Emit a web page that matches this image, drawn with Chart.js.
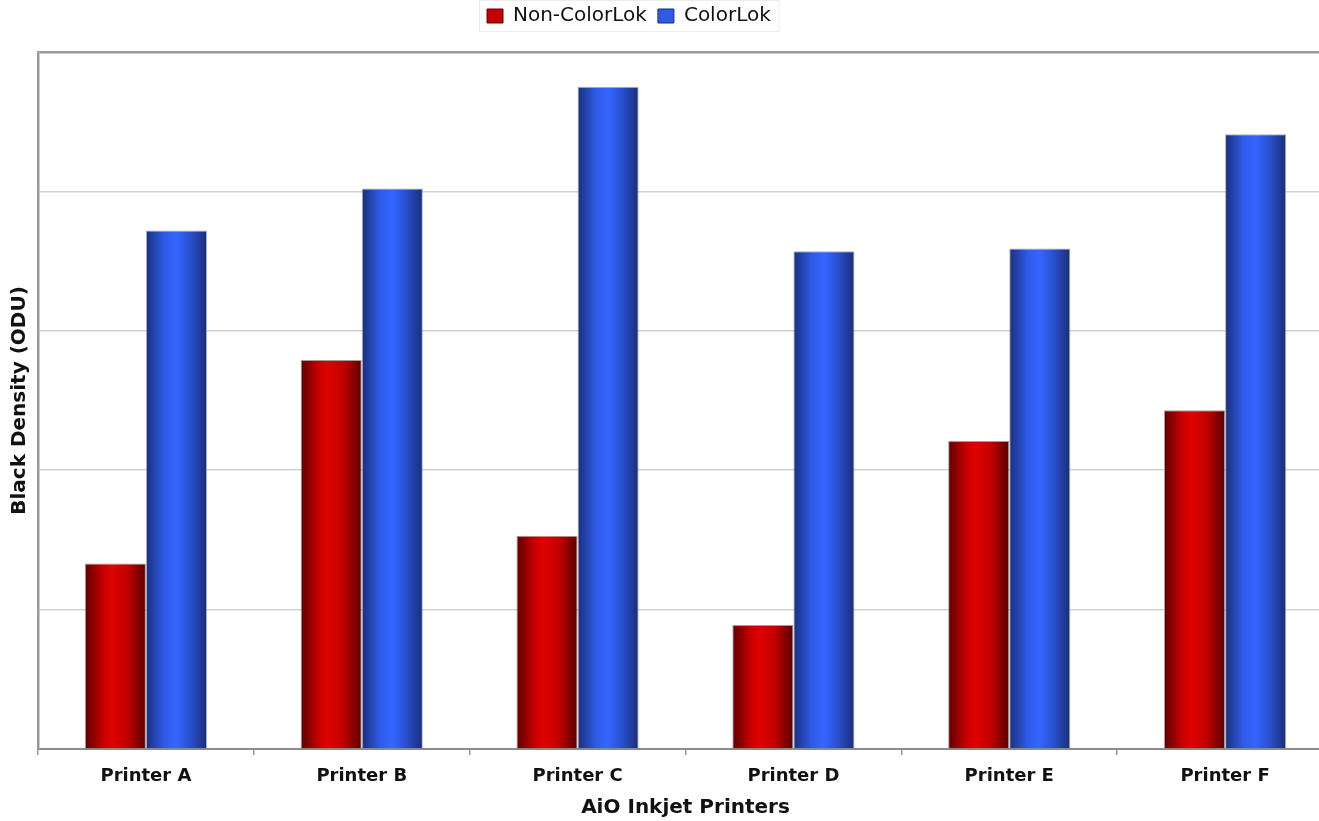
<!DOCTYPE html>
<html>
<head>
<meta charset="utf-8">
<title>Black Density</title>
<script src="https://cdn.jsdelivr.net/npm/chart.js@4/dist/chart.umd.min.js"></script>
<style>
  html, body { margin: 0; padding: 0; background: #fff; overflow: hidden; }
  #wrap { width: 1333px; height: 821px; }
</style>
</head>
<body>
<div id="wrap"><canvas id="densityChart"></canvas></div>
<script>
const printers = ['Printer A', 'Printer B', 'Printer C', 'Printer D', 'Printer E', 'Printer F'];
const nonColorLok = [1.33, 2.79, 1.53, 0.89, 2.21, 2.43];
const colorLok = [3.72, 4.02, 4.75, 3.57, 3.59, 4.41];
const yTicks = [0, 1, 2, 3, 4, 5];

const FONT = "'DejaVu Sans', Verdana, sans-serif";

// stops for the rounded "cylinder" look of each bar
const redStops = [[0, '#5c0000'], [0.3, '#c80000'], [0.45, '#de0202'], [0.7, '#c00000'], [1, '#5a0000']];
const blueStops = [[0, '#1a2f7a'], [0.3, '#2f5ae8'], [0.5, '#3366ff'], [0.72, '#2a50d0'], [1, '#1a2d74']];

const shadeBars = {
  id: 'shadeBars',
  beforeDatasetsDraw(chart) {
    const ctx = chart.ctx;
    chart.data.datasets.forEach((ds, i) => {
      const stops = i === 0 ? redStops : blueStops;
      chart.getDatasetMeta(i).data.forEach((bar) => {
        const g = ctx.createLinearGradient(bar.x - bar.width / 2, 0, bar.x + bar.width / 2, 0);
        stops.forEach(([p, c]) => g.addColorStop(p, c));
        bar.options.backgroundColor = g;
      });
    });
  },
};

// legend sits left of centre with a faint frame round it
const legendBox = {
  id: 'legendBox',
  afterInit(chart) {
    const legend = chart.legend;
    const fit = legend.fit;
    legend.fit = function () {
      fit.call(this);
      this.height = 52;
    };
  },
  afterLayout(chart) {
    chart.legend.left = 476;
    chart.legend.top = -5;
  },
  afterDraw(chart) {
    const boxes = chart.legend.legendHitBoxes;
    if (!boxes || !boxes.length) return;
    const first = boxes[0];
    const last = boxes[boxes.length - 1];
    const ctx = chart.ctx;
    ctx.save();
    ctx.strokeStyle = '#ececec';
    ctx.lineWidth = 1;
    ctx.strokeRect(first.left - 7.5, 0.5, last.left + last.width - first.left + 16, 31);
    ctx.restore();
  },
};

const ctx = document.getElementById('densityChart').getContext('2d');
const densityChart = new Chart(ctx, {
  type: 'bar',
  data: {
    labels: printers,
    datasets: [
      {
        label: 'Non-ColorLok',
        data: nonColorLok,
        backgroundColor: () => '#cc0000',
        borderColor: 'rgba(140, 110, 110, 0.7)',
        borderWidth: 1,
        categoryPercentage: 0.566,
        barPercentage: 1,
      },
      {
        label: 'ColorLok',
        data: colorLok,
        backgroundColor: () => '#2e5ae6',
        borderColor: 'rgba(130, 140, 170, 0.7)',
        borderWidth: 1,
        categoryPercentage: 0.566,
        barPercentage: 1,
      },
    ],
  },
  options: {
    responsive: true,
    maintainAspectRatio: false,
    animation: false,
    layout: { padding: { top: 0, right: 0, bottom: 0, left: 0 } },
    plugins: {
      tooltip: { enabled: false },
      legend: {
        display: true,
        position: 'top',
        align: 'start',
        labels: {
          font: { family: FONT, size: 20 },
          color: '#111',
          boxWidth: 16,
          boxHeight: 14,
          padding: 11,
          generateLabels(chart) {
            return chart.data.datasets.map((ds, i) => ({
              text: ds.label,
              fillStyle: i === 0 ? '#c40000' : '#2e5ae6',
              strokeStyle: i === 0 ? '#6a0000' : '#1a2f7a',
              lineWidth: 1,
              datasetIndex: i,
              fontColor: '#111',
            }));
          },
        },
      },
    },
    scales: {
      x: {
        grid: {
          display: true,
          drawOnChartArea: false,
          offset: true,
          tickLength: 6,
          color: '#9a9a9a',
          lineWidth: 1.5,
        },
        border: { display: true, color: '#8c8c8c', width: 2 },
        ticks: {
          font: { family: FONT, size: 18, weight: 'bold' },
          color: '#111',
          padding: 11,
        },
        title: {
          display: true,
          text: 'AiO Inkjet Printers',
          font: { family: FONT, size: 20, weight: 'bold' },
          color: '#111',
          padding: { top: 0, bottom: 1 },
        },
        afterFit(scale) {
          scale.height = 72;
        },
      },
      y: {
        min: yTicks[0],
        max: yTicks[yTicks.length - 1],
        afterBuildTicks(scale) {
          scale.ticks = yTicks.map((v) => ({ value: v }));
        },
        ticks: { display: false },
        grid: {
          drawTicks: false,
          color: (c) => (c.tick && c.tick.value === 5 ? '#9a9a9a' : '#d2d2d2'),
          lineWidth: (c) => (c.tick && c.tick.value === 5 ? 2.5 : 1.5),
        },
        border: { display: true, color: '#9a9a9a', width: 2.5 },
        title: {
          display: true,
          text: 'Black Density (ODU)',
          font: { family: FONT, size: 20, weight: 'bold' },
          color: '#111',
          padding: { top: 8, bottom: 0 },
        },
        afterFit(scale) {
          scale.width = 38;
        },
      },
    },
  },
  plugins: [shadeBars, legendBox],
});
</script>
</body>
</html>
